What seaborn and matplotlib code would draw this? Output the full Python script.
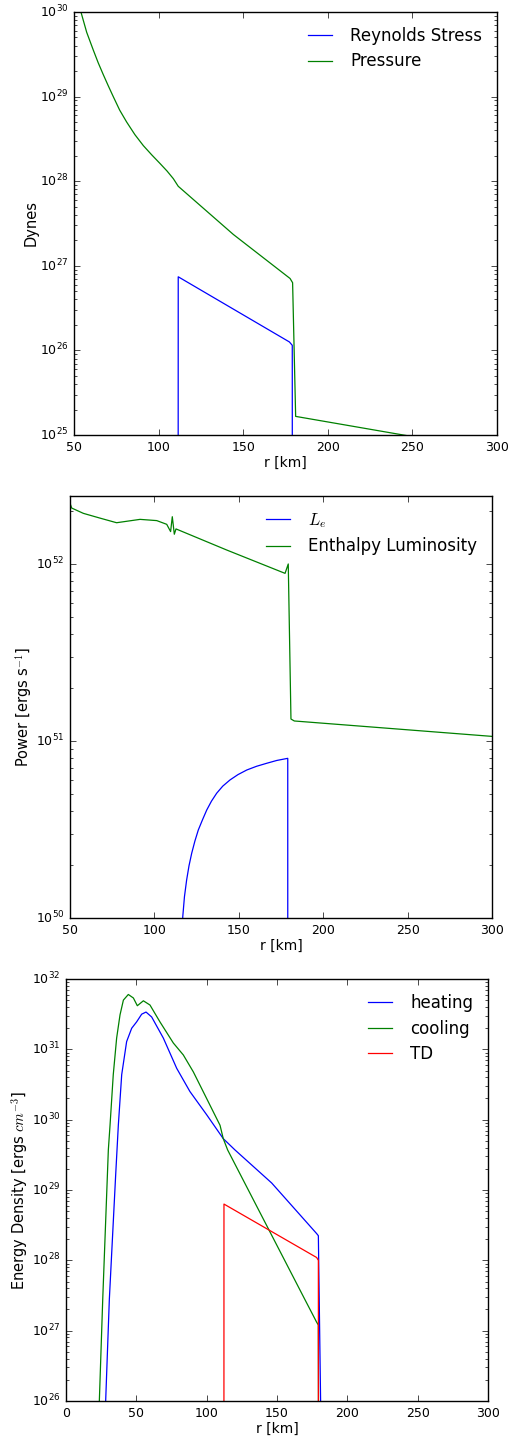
import numpy as np
import matplotlib
matplotlib.use('Agg')
import matplotlib.pyplot as plt
import seaborn as sns

# ---- panel 1: stresses (r in km, values as log10 dynes) ----
r_press = [50, 54.1, 57.5, 61.4, 64.3, 67.3, 70.2, 73.2, 77.0, 81.1, 86.0, 91.0,
           96.0, 100.8, 105.0, 108.7, 111.6, 144.2, 177.7, 179.2, 181.0, 244.6, 300]
log_press = [30.3, 30.0, 29.76, 29.55, 29.40, 29.26, 29.13, 29.0, 28.84, 28.70,
             28.55, 28.42, 28.31, 28.21, 28.12, 28.03, 27.94, 27.37, 26.85, 26.80,
             25.22, 25.0, 24.81]
r_reyn = [50, 111.5, 111.6, 177.3, 179.0, 179.1, 300]
log_reyn = [20, 20, 26.87, 26.10, 26.06, 20, 20]

# ---- panel 2: luminosities (log10 ergs/s) ----
r_le = [50, 115.5, 116.2, 116.8, 117.8, 119.1, 120.5, 122.1, 124.0, 126.0, 128.5,
        131.0, 133.8, 136.9, 140.5, 144.8, 149.5, 154.7, 160.5, 166.5, 172.5,
        179.0, 179.05, 300]
log_le = [45, 45, 49.85, 50.007, 50.12, 50.215, 50.295, 50.366, 50.435, 50.497,
          50.555, 50.61, 50.66, 50.705, 50.745, 50.78, 50.81, 50.836, 50.857,
          50.874, 50.89, 50.902, 45, 45]
r_enth = [50, 51, 57.9, 67.8, 77.6, 91.5, 101.4, 107.3, 109.6, 110.6, 111.8,
          112.8, 142.8, 177.4, 179.3, 180.9, 182.9, 300]
log_enth = [52.343, 52.316, 52.286, 52.259, 52.233, 52.252, 52.245, 52.224,
            52.183, 52.267, 52.168, 52.198, 52.079, 51.947, 52.0, 51.124,
            51.113, 51.026]

# ---- panel 3: energy densities (log10 ergs/cm^3) ----
r_heat = [0, 25.0, 28.2, 30.8, 35.3, 37.2, 39.6, 43.1, 46.7, 50.2, 53.8, 56.9,
          60.9, 69.2, 78.7, 88.1, 100.0, 111.8, 120.1, 146.2, 178.2, 179.4,
          181.0, 181.1, 300]
log_heat = [18, 24.6, 26.0, 27.44, 29.21, 29.92, 30.64, 31.11, 31.30, 31.39,
            31.50, 31.53, 31.46, 31.16, 30.73, 30.40, 30.07, 29.73, 29.57, 29.10,
            28.38, 28.35, 26.0, 18, 18]
r_cool = [0, 21.0, 23.7, 26.1, 30.1, 31.3, 33.6, 36.0, 38.4, 40.8, 44.3, 47.9,
          50.7, 55.0, 59.7, 66.8, 76.3, 83.4, 90.5, 100.0, 109.5, 111.8, 114.9,
          169.9, 178.2, 179.4, 180.0, 300]
log_cool = [18, 24.3, 26.0, 27.44, 29.57, 29.92, 30.64, 31.16, 31.49, 31.70,
            31.78, 31.73, 31.62, 31.69, 31.63, 31.39, 31.09, 30.92, 30.68, 30.30,
            29.92, 29.73, 29.57, 27.44, 27.12, 27.08, 18, 18]
r_td = [0, 112.2, 112.3, 178.2, 179.4, 179.6, 300]
log_td = [18, 18, 28.80, 28.04, 28.0, 18, 18]

plt.style.use('classic')
plt.rcParams['savefig.facecolor'] = 'white'
plt.rcParams['figure.facecolor'] = 'white'

fig = plt.figure(figsize=(5.17, 14.37), dpi=100)
W, H = 517.0, 1437.0


def make_axes(left, top, right, bottom):
    return fig.add_axes([left / W, 1 - bottom / H, (right - left) / W, (bottom - top) / H])


def line(ax, x, logy, color, label):
    sns.lineplot(x=np.array(x), y=10.0 ** np.array(logy), ax=ax, color=color,
                 label=label, sort=False, estimator=None, linewidth=0.9)


def finish(ax, xlim, ylim, ylabel):
    ax.set_yscale('log')
    ax.set_xlim(*xlim)
    ax.set_ylim(*ylim)
    ax.set_xlabel('r [km]', fontsize=10, labelpad=2)
    ax.set_ylabel(ylabel, fontsize=10.5, labelpad=1)
    ax.tick_params(labelsize=9)
    ax.legend(loc='upper right', frameon=False, fontsize=12, handlelength=2.0,
              handletextpad=0.8, labelspacing=0.45)


ax1 = make_axes(74, 12, 497, 435)
line(ax1, r_reyn, log_reyn, 'b', 'Reynolds Stress')
line(ax1, r_press, log_press, 'g', 'Pressure')
finish(ax1, (50, 300), (1e25, 1e30), 'Dynes')

ax2 = make_axes(70, 496, 492, 918)
line(ax2, r_le, log_le, 'b', r'$L_e$')
line(ax2, r_enth, log_enth, 'g', 'Enthalpy Luminosity')
finish(ax2, (50, 300), (1e50, 10 ** 52.384), r'Power [ergs s$^{-1}$]')

ax3 = make_axes(66, 979, 488, 1401)
line(ax3, r_heat, log_heat, 'b', 'heating')
line(ax3, r_cool, log_cool, 'g', 'cooling')
line(ax3, r_td, log_td, 'r', 'TD')
finish(ax3, (0, 300), (1e26, 1e32), r'Energy Density [ergs $cm^{-3}$]')

fig.savefig('out.png', dpi=100)
